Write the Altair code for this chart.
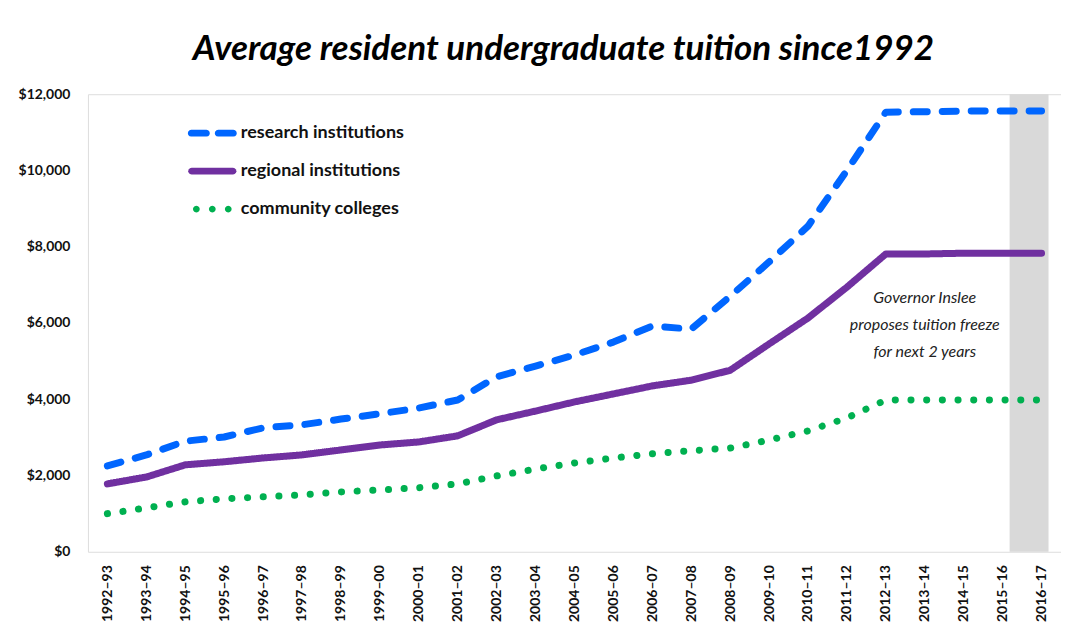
import math
import altair as alt
import pandas as pd

years = ["1992\u201393", "1993\u201394", "1994\u201395", "1995\u201396", "1996\u201397",
         "1997\u201398", "1998\u201399", "1999\u201300", "2000\u201301", "2001\u201302",
         "2002\u201303", "2003\u201304", "2004\u201305", "2005\u201306", "2006\u201307",
         "2007\u201308", "2008\u201309", "2009\u201310", "2010\u201311", "2011\u201312",
         "2012\u201313", "2013\u201314", "2014\u201315", "2015\u201316", "2016\u201317"]

research = [2250, 2540, 2900, 3010, 3250, 3330, 3480, 3620, 3770, 3980,
            4590, 4870, 5160, 5500, 5920, 5840, 6700, 7600, 8540, 10000,
            11530, 11540, 11560, 11560, 11560]
regional = [1780, 1960, 2280, 2360, 2460, 2540, 2670, 2800, 2880, 3040,
            3460, 3690, 3930, 4140, 4350, 4500, 4760, 5450, 6130, 6940,
            7810, 7810, 7830, 7830, 7830]
community = [1000, 1150, 1310, 1390, 1440, 1490, 1570, 1620, 1680, 1780,
             1990, 2170, 2330, 2460, 2570, 2650, 2720, 2930, 3170, 3510,
             3980, 3980, 3980, 3980, 3980]

series_names = ["research institutions", "regional institutions", "community colleges"]
series_colors = ["#0066FF", "#7030A0", "#00B050"]
series_dashes = [[14, 15], [1, 0], [0.1, 15.6]]


# legend glyphs as polygon-only SVG paths (unit = half the symbol size)
def _poly(pts):
    return "M" + "L".join(f"{x:.3f},{y:.3f}" for x, y in pts) + "Z"


def _pill(x0, x1, r=0.18, n=6):
    pts = []
    for i in range(n + 1):
        a = -math.pi / 2 + math.pi * i / n
        pts.append((x1 - r + r * math.cos(a), r * math.sin(a)))
    for i in range(n + 1):
        a = math.pi / 2 + math.pi * i / n
        pts.append((x0 + r + r * math.cos(a), r * math.sin(a)))
    return _poly(pts)


def _dot(cx, r=0.18, n=12):
    return _poly([(cx + r * math.cos(2 * math.pi * i / n), r * math.sin(2 * math.pi * i / n))
                  for i in range(n)])


legend_glyphs = [
    _pill(-1.29, -0.13) + _pill(0.13, 1.29),
    _pill(-1.27, 1.27),
    _dot(-0.84) + _dot(0.0) + _dot(0.84),
]

y_ticks = [0, 2000, 4000, 6000, 8000, 10000, 12000]
freeze_start, freeze_end = "2015\u201316", "2016\u201317"
note_year = "2013\u201314"
note_value = 6650
note_text = "Governor Inslee\nproposes tuition freeze\nfor next 2 years"
title_text = "Average resident undergraduate tuition since1992"

FONT = "Lato"

rows = []
for name, vals in zip(series_names, [research, regional, community]):
    for yr, v in zip(years, vals):
        rows.append({"year": yr, "tuition": v, "series": name})
df = pd.DataFrame(rows)

xscale = alt.Scale(type="point", domain=years, padding=0.5)
yscale = alt.Scale(domain=[0, 12000], nice=False)

# line scales list the series in reverse order so their (hidden) legends stay separate
line_domain = series_names[::-1]
line_colors = series_colors[::-1]
line_dashes = series_dashes[::-1]

band = alt.Chart(pd.DataFrame({"start": [freeze_start], "end": [freeze_end]})).mark_rect(
    color="#D9D9D9", xOffset=7, x2Offset=7
).encode(
    x=alt.X("start:N", scale=xscale),
    x2="end:N",
    y=alt.datum(12000),
    y2=alt.datum(0),
)

lines = alt.Chart(df).mark_line(strokeWidth=7, strokeCap="round", strokeJoin="round").encode(
    x=alt.X("year:N", scale=xscale, sort=years,
            axis=alt.Axis(title=None, labelAngle=-90, labelFont=FONT, labelFontSize=14,
                          labelFontWeight="bold", labelColor="#111111", labelPadding=13,
                          ticks=False, domain=False, grid=False)),
    y=alt.Y("tuition:Q", scale=yscale,
            axis=alt.Axis(title=None, values=y_ticks, format="$,.0f", labelFont=FONT,
                          labelFontSize=14, labelFontWeight="bold", labelColor="#111111",
                          labelPadding=18, ticks=False, domain=False, grid=False)),
    stroke=alt.Stroke("series:N", scale=alt.Scale(domain=line_domain, range=line_colors), legend=None),
    strokeDash=alt.StrokeDash("series:N", scale=alt.Scale(domain=line_domain, range=line_dashes), legend=None),
    order=alt.Order("year:N"),
)

leg = alt.Legend(
    title=None, orient="none", legendX=105.5, legendY=20,
    symbolSize=1444, symbolStrokeWidth=0, symbolOpacity=1,
    labelFont=FONT, labelFontSize=18, labelFontWeight="bold", labelColor="#111111",
    labelOffset=9.5, rowPadding=10, padding=0, labelLimit=400,
)

# legend carrier: same data, pushed outside the clipped plot area so only its legend shows
legend_layer = alt.Chart(df).mark_point(filled=True, clip=True, yOffset=2000).encode(
    x=alt.X("year:N", scale=xscale),
    y=alt.Y("tuition:Q", scale=yscale),
    color=alt.Color("series:N", scale=alt.Scale(domain=series_names, range=series_colors), legend=leg),
    shape=alt.Shape("series:N", scale=alt.Scale(domain=series_names, range=legend_glyphs), legend=leg),
)

note = alt.Chart(pd.DataFrame({"year": [note_year], "v": [note_value], "t": [note_text]})).mark_text(
    font=FONT, fontSize=16, fontStyle="italic", color="#222222", lineBreak="\n",
    lineHeight=27, baseline="middle", align="center"
).encode(
    x=alt.X("year:N", scale=xscale),
    y=alt.Y("v:Q", scale=yscale),
    text="t:N",
)

chart = alt.layer(band, lines, legend_layer, note).properties(
    width=974, height=458,
    autosize=alt.AutoSizeParams(type="none"),
    padding={"left": 80, "top": 86, "right": 0, "bottom": 75},
    title=alt.TitleParams(title_text, font=FONT, fontSize=35, fontWeight="bold",
                          fontStyle="italic", color="#000000", anchor="middle",
                          baseline="alphabetic", frame="group", offset=-8, dx=-11),
).configure_view(stroke="#DDDDDD", strokeWidth=1).configure(background="white")

chart.save("out.html", embed_options={"renderer": "svg", "actions": False})
